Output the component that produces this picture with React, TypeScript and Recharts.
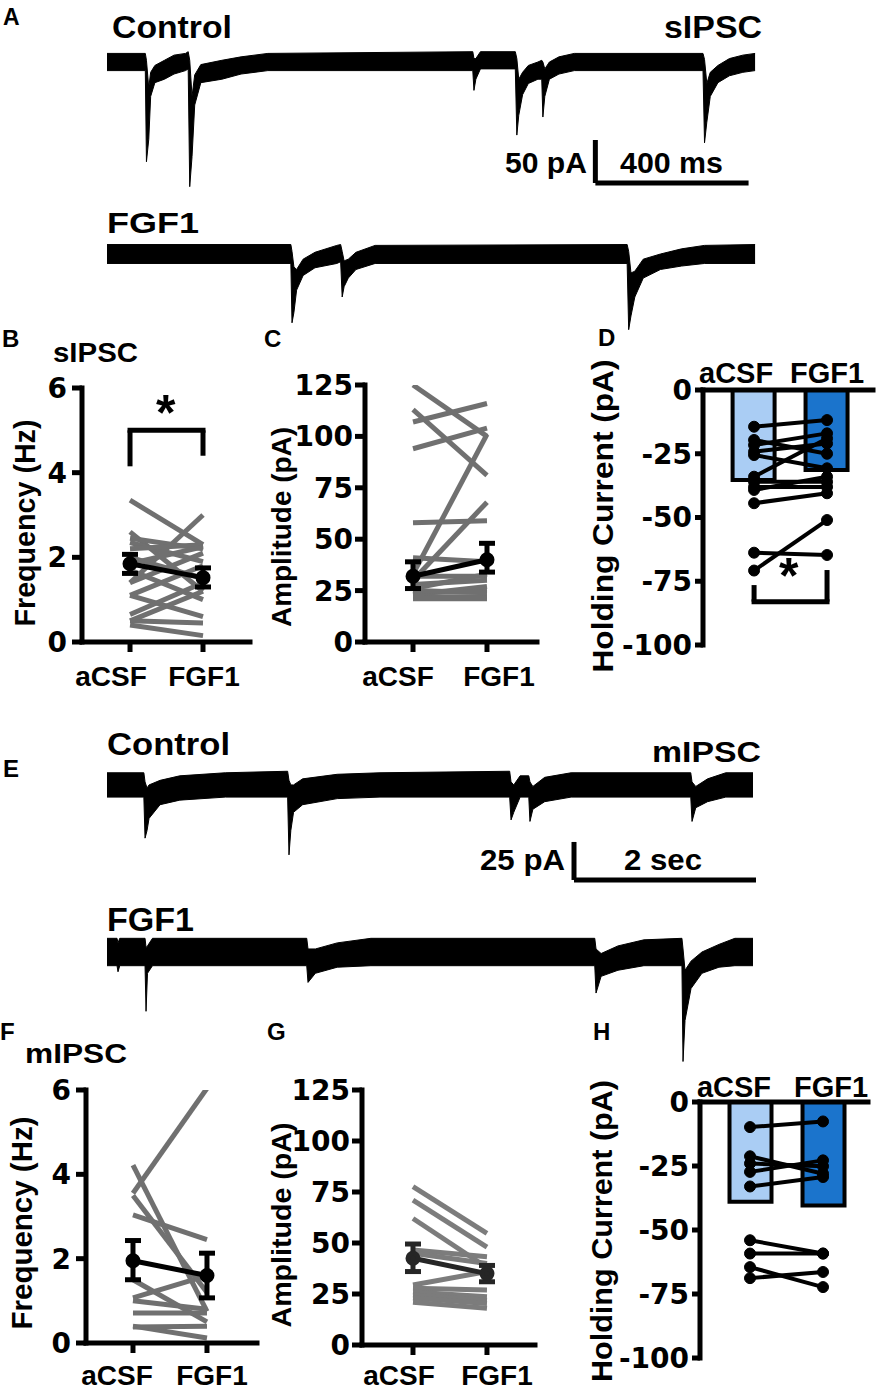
import React from "react";
import { ComposedChart, Line, Area, Bar, Cell, XAxis, YAxis, ReferenceLine, ErrorBar } from "recharts";

const SANS = '"Liberation Sans", Arial, Helvetica, sans-serif';
const NUMS = '"DejaVu Sans", sans-serif';

const groups = ["aCSF", "FGF1"];

// ---- traces (t in ms, band = noise envelope in pA) ----
// A, control sIPSC
const sCtrlT = [0, 100, 103, 109, 114, 125, 150, 175, 205, 212, 216, 222, 229, 245, 300, 350, 420, 955, 958, 963, 975, 1066, 1070, 1075, 1085, 1100, 1125, 1135, 1138, 1143, 1155, 1180, 1220, 1556, 1560, 1566, 1575, 1595, 1625, 1660, 1692];
const sCtrlHi = [10, 10, 2, -30, -12, -4, 2, 8, 10, 12, 2, -40, -15, -3, 2, 6, 10, 12, 4, 4, 12, 12, 4, -20, -12, -4, 0, 2, 0, -8, 0, 6, 10, 10, 3, -25, -12, -4, 4, 8, 10];
const sCtrlLo = [-10, -10, -116, -90, -40, -24, -20, -14, -10, -8, -145, -110, -50, -24, -20, -14, -10, -10, -33, -20, -8, -8, -85, -62, -38, -25, -20, -20, -64, -40, -20, -14, -10, -10, -94, -70, -40, -24, -16, -12, -10];
// A, FGF1 sIPSC
const sFgfT = [0, 480, 483, 488, 495, 512, 543, 600, 610, 614, 619, 630, 650, 700, 1358, 1362, 1368, 1378, 1400, 1445, 1500, 1560, 1692];
const sFgfHi = [11, 11, 3, -15, -18, -6, 2, 10, 11, 3, -8, -6, 2, 10, 11, 3, -22, -20, -6, 0, 6, 10, 11];
const sFgfLo = [-11, -11, -80, -68, -42, -25, -16, -11, -9, -50, -38, -28, -18, -11, -11, -88, -72, -50, -28, -18, -14, -11, -11];
// E, control mIPSC
const mCtrlT = [0, 405, 418, 440, 462, 583, 800, 1300, 1985, 2000, 2020, 2050, 2150, 2530, 3000, 4425, 4440, 4470, 4540, 4635, 4648, 4680, 4810, 5100, 6415, 6429, 6470, 6600, 6800, 7099];
const mCtrlHi = [8, 8, 2, -2, 0, 3, 6, 8, 9, 3, 0, 0, 4, 7, 8, 9, 2, 0, 6, 6, 2, -1, 5, 8, 8, 2, -1, 4, 8, 8];
const mCtrlLo = [-8, -8, -35, -30, -22, -13, -10, -8, -8, -46, -30, -18, -13, -9, -8, -8, -23, -18, -8, -8, -24, -16, -11, -8, -8, -24, -15, -11, -8, -8];
// E, FGF1 mIPSC
const mFgfT = [0, 110, 121, 140, 418, 429, 445, 500, 2195, 2209, 2290, 2530, 2900, 5360, 5374, 5430, 5615, 5900, 6318, 6330, 6352, 6418, 6538, 6725, 6900, 7099];
const mFgfHi = [9, 9, 6, 9, 9, 3, 4, 9, 9, 2, 2, 6, 9, 9, 2, -1, 4, 8, 9, 2, -12, -6, 0, 5, 9, 9];
const mFgfLo = [-9, -9, -13, -9, -9, -39, -14, -9, -9, -20, -14, -10, -9, -9, -27, -16, -12, -9, -9, -72, -45, -24, -14, -10, -9, -9];

// scale bars: [start t (ms), start current (pA), length ms, length pA]
const sScaleBar = [1275, -140.7, 400, 50];
const mScaleBar = [5132, -62.5, 2000, 25];

// ---- B: sIPSC frequency (Hz) ----
const sFreqACSF = [3.35, 2.6, 2.45, 2.35, 2.2, 2.0, 1.85, 1.7, 1.4, 1.4, 1.1, 1.1, 0.65, 0.5, 0.4, 0.5];
const sFreqFGF1 = [2.3, 1.2, 2.2, 1.9, 2.3, 1.5, 2.25, 1.0, 2.1, 3.0, 1.8, 0.6, 1.4, 0.45, 0.15, 1.2];
const sFreqMean = [1.85, 1.52];
const sFreqLow = [1.62, 1.3];
const sFreqHigh = [2.07, 1.75];

// ---- C: sIPSC amplitude (pA) ----
const sAmpACSF = [125, 113, 107, 94, 58, 41, 33, 30, 32, 28, 26, 24, 22, 23, 25, 21];
const sAmpFGF1 = [100, 81, 116, 104, 59, 39, 101, 68, 32, 30, 33, 25, 22, 27, 24, 21];
const sAmpMean = [32, 40];
const sAmpLow = [26, 34];
const sAmpHigh = [39, 48];

// ---- D: sIPSC holding current (pA) ----
const sHoldACSF = [-14.4, -19.6, -21.6, -24.2, -25.5, -34, -36, -38, -39.2, -44.4, -63.8, -70.8];
const sHoldFGF1 = [-11.8, -25, -17, -21, -30.7, -19, -36, -38, -34, -40.5, -64.7, -51];
const sHoldBars = [-35.3, -31.4];

// ---- F: mIPSC frequency (Hz) ----
const mFreqACSF = [4.22, 3.55, 3.5, 3.04, 1.5, 1.07, 1.0, 0.71, 0.4, 0.38];
const mFreqFGF1 = [0.75, 6.04, 1.2, 2.45, 0.5, 1.6, 0.8, 0.71, 0.12, 0.4];
const mFreqMean = [1.95, 1.6];
const mFreqLow = [1.5, 1.07];
const mFreqHigh = [2.43, 2.13];

// ---- G: mIPSC amplitude (pA) ----
const mAmpACSF = [77.6, 71, 62, 46.6, 45, 29.4, 27.8, 26, 24.5, 23, 21];
const mAmpFGF1 = [54.7, 48, 38, 43.3, 40, 36, 27, 23.7, 22, 20.4, 18];
const mAmpMean = [42.5, 35];
const mAmpLow = [36, 31];
const mAmpHigh = [49.5, 39];

// ---- H: mIPSC holding current (pA) ----
const mHoldACSF = [-9.8, -21.2, -24, -27.3, -33, -54, -59.2, -64.5, -68.8];
const mHoldFGF1 = [-7.6, -28, -25.1, -22.8, -29.3, -59.2, -59.2, -72.3, -66.4];
const mHoldBars = [-39, -40.4];

const barColors = ["#aacdf4", "#1b74cc"];

const AXIS = { stroke: "#000", strokeWidth: 5, strokeLinecap: "square" as const };
const TICK = { stroke: "#000", strokeWidth: 5 };

function traceRows(t: number[], hi: number[], lo: number[]) {
  return t.map((v, i) => ({ t: v, band: [lo[i], hi[i]] }));
}

function pairedRows(a: number[], b: number[], mean?: number[], lo?: number[], hi?: number[], bars?: number[]) {
  return [0, 1].map((g) => {
    const row: any = { x: g + 1 };
    a.forEach((_, i) => {
      row["s" + i] = g === 0 ? a[i] : b[i];
    });
    if (mean && lo && hi) {
      row.mean = mean[g];
      row.err = [mean[g] - lo[g], hi[g] - mean[g]];
    }
    if (bars) row.bar = bars[g];
    return row;
  });
}

type Box = { left: number; top: number; width: number; height: number };

function Trace({ box, rows, xDomain, yDomain, bar }: { box: Box; rows: any[]; xDomain: number[]; yDomain: number[]; bar?: number[] }) {
  return (
    <div style={{ position: "absolute", left: box.left, top: box.top }}>
      <ComposedChart width={box.width} height={box.height} data={rows} margin={{ top: 0, right: 0, bottom: 0, left: 0 }}>
        <XAxis type="number" dataKey="t" domain={xDomain} hide allowDataOverflow />
        <YAxis type="number" domain={yDomain} hide allowDataOverflow />
        <Area dataKey="band" type="linear" stroke="#000" strokeWidth={1} fill="#000" fillOpacity={1} dot={false} activeDot={false} isAnimationActive={false} />
        {bar && (
          <ReferenceLine segment={[{ x: bar[0], y: bar[1] + bar[3] }, { x: bar[0], y: bar[1] }]} stroke="#000" strokeWidth={5} />
        )}
        {bar && (
          <ReferenceLine segment={[{ x: bar[0], y: bar[1] }, { x: bar[0] + bar[2], y: bar[1] }]} stroke="#000" strokeWidth={5} />
        )}
      </ComposedChart>
    </div>
  );
}

function makeCatTick(dy: number, shifts: number[], size: number) {
  return (props: any) => {
    const { x, y, payload } = props;
    const i = Math.round(payload.value) - 1;
    if (i < 0 || i > 1) return <g />;
    return (
      <text x={x + shifts[i]} y={y + dy} textAnchor="middle" fontFamily={SANS} fontWeight={700} fontSize={size} fill="#000">
        {groups[i]}
      </text>
    );
  };
}

type PairedProps = {
  box: Box;
  plot: { left: number; top: number; right: number; bottom: number };
  xDomain: number[];
  yDomain: number[];
  yTicks: number[];
  rows: any[];
  n: number;
  color: string;
  catDy: number;
  catShift: number[];
  catSize?: number;
  topAxis?: boolean;
  dots?: boolean;
  hasMean?: boolean;
  meanColor?: string;
  bracket?: number[]; // [bottom/top y, left leg end, right leg end]
  yTickSize?: number;
  yTickMargin?: number;
};

function Paired(p: PairedProps) {
  const { box, plot } = p;
  const margin = {
    top: p.topAxis ? 0 : plot.top - box.top,
    right: box.left + box.width - plot.right,
    bottom: p.topAxis ? box.top + box.height - plot.bottom : 0,
    left: 0,
  };
  const xH = p.topAxis ? plot.top - box.top : box.top + box.height - plot.bottom;
  const ids = Array.from({ length: p.n }, (_, i) => "s" + i);
  return (
    <div style={{ position: "absolute", left: box.left, top: box.top }}>
      <ComposedChart width={box.width} height={box.height} data={p.rows} margin={margin}>
        <XAxis
          type="number"
          dataKey="x"
          domain={p.xDomain}
          ticks={[1, 2]}
          interval={0}
          allowDataOverflow
          orientation={p.topAxis ? "top" : "bottom"}
          height={xH}
          axisLine={AXIS}
          tickLine={p.topAxis ? false : TICK}
          tickSize={p.topAxis ? 0 : 10}
          tickMargin={0}
          tick={makeCatTick(p.catDy, p.catShift, p.catSize ?? 28)}
        />
        <YAxis
          type="number"
          domain={p.yDomain}
          ticks={p.yTicks}
          interval={0}
          allowDataOverflow
          width={plot.left - box.left}
          axisLine={AXIS}
          tickLine={TICK}
          tickSize={p.yTickSize ?? 10}
          tickMargin={p.yTickMargin ?? 4}
          tick={{ fontFamily: NUMS, fontWeight: 700, fontSize: 28, fill: "#000" }}
        />
        {p.topAxis && (
          <Bar dataKey="bar" barSize={42} stroke="#000" strokeWidth={4} isAnimationActive={false}>
            {barColors.map((c) => (
              <Cell key={c} fill={c} />
            ))}
          </Bar>
        )}
        {ids.map((k) => (
          <Line
            key={k}
            dataKey={k}
            type="linear"
            stroke={p.color}
            strokeWidth={p.dots ? 4 : 5}
            dot={p.dots ? { r: 5.5, fill: "#000", stroke: "#000", strokeWidth: 1 } : false}
            activeDot={false}
            isAnimationActive={false}
          />
        ))}
        {p.hasMean && (
          <Line dataKey="mean" type="linear" stroke={p.meanColor ?? "#000"} strokeWidth={5} dot={{ r: 5, fill: p.meanColor ?? "#000", stroke: p.meanColor ?? "#000" }} activeDot={false} isAnimationActive={false}>
            <ErrorBar dataKey="err" direction="y" width={8} stroke={p.meanColor ?? "#000"} strokeWidth={5} />
          </Line>
        )}
        {p.bracket && (
          <ReferenceLine segment={[{ x: 1, y: p.bracket[1] }, { x: 1, y: p.bracket[0] }]} stroke="#000" strokeWidth={5} />
        )}
        {p.bracket && (
          <ReferenceLine segment={[{ x: 1, y: p.bracket[0] }, { x: 2, y: p.bracket[0] }]} stroke="#000" strokeWidth={5} strokeLinecap="square" />
        )}
        {p.bracket && (
          <ReferenceLine segment={[{ x: 2, y: p.bracket[0] }, { x: 2, y: p.bracket[2] }]} stroke="#000" strokeWidth={5} />
        )}
      </ComposedChart>
    </div>
  );
}

type Lbl = { t: string; x: number; y: number; s: number; len?: number; rot?: boolean };

const labels: Lbl[] = [
  { t: "A", x: 3, y: 25, s: 23 },
  { t: "Control", x: 112, y: 38, s: 32, len: 120 },
  { t: "sIPSC", x: 664, y: 38, s: 32, len: 98 },
  { t: "50 pA", x: 505, y: 173, s: 29, len: 82 },
  { t: "400 ms", x: 620, y: 173, s: 29, len: 103 },
  { t: "FGF1", x: 107, y: 233, s: 30, len: 92 },
  { t: "B", x: 2, y: 347, s: 24 },
  { t: "sIPSC", x: 53, y: 362, s: 27, len: 85 },
  { t: "C", x: 264, y: 347, s: 24 },
  { t: "D", x: 598, y: 346, s: 24 },
  { t: "*", x: 156, y: 430, s: 50 },
  { t: "*", x: 779, y: 593, s: 50 },
  { t: "Frequency (Hz)", x: 35, y: 523, s: 29, len: 207, rot: true },
  { t: "Amplitude (pA)", x: 291, y: 527, s: 28, len: 200, rot: true },
  { t: "Holding Current (pA)", x: 613, y: 516, s: 29, len: 313, rot: true },
  { t: "E", x: 3, y: 777, s: 24 },
  { t: "Control", x: 107, y: 755, s: 32, len: 123 },
  { t: "mIPSC", x: 652, y: 762, s: 29, len: 109 },
  { t: "25 pA", x: 480, y: 870, s: 29, len: 85 },
  { t: "2 sec", x: 624, y: 870, s: 29, len: 78 },
  { t: "FGF1", x: 107, y: 931, s: 33, len: 87 },
  { t: "F", x: 0, y: 1040, s: 24 },
  { t: "G", x: 267, y: 1040, s: 24 },
  { t: "H", x: 593, y: 1040, s: 24 },
  { t: "mIPSC", x: 25, y: 1063, s: 27, len: 102 },
  { t: "Frequency (Hz)", x: 32, y: 1223, s: 29, len: 213, rot: true },
  { t: "Amplitude (pA)", x: 291, y: 1225, s: 28, len: 205, rot: true },
  { t: "Holding Current (pA)", x: 612, y: 1231, s: 29, len: 302, rot: true },
];

function Labels() {
  return (
    <svg width={881} height={1393} style={{ position: "absolute", left: 0, top: 0, pointerEvents: "none" }}>
      {labels.map((l, i) => {
        const common: any = { fontFamily: SANS, fontWeight: 700, fontSize: l.s, fill: "#000" };
        if (l.len) {
          common.textLength = l.len;
          common.lengthAdjust = "spacingAndGlyphs";
        }
        if (l.rot) {
          return (
            <text key={i} transform={`translate(${l.x},${l.y}) rotate(-90)`} textAnchor="middle" {...common}>
              {l.t}
            </text>
          );
        }
        return (
          <text key={i} x={l.x} y={l.y} {...common}>
            {l.t}
          </text>
        );
      })}
    </svg>
  );
}

export default function App() {
  return (
    <div style={{ position: "relative", width: 881, height: 1393, background: "#fff", overflow: "hidden" }}>
      <style>{"body{margin:0}"}</style>

      <Trace box={{ left: 107, top: 40, width: 650, height: 160 }} rows={traceRows(sCtrlT, sCtrlHi, sCtrlLo)} xDomain={[0, 1697]} yDomain={[-160.5, 25.6]} bar={sScaleBar} />
      <Trace box={{ left: 107, top: 200, width: 650, height: 140 }} rows={traceRows(sFgfT, sFgfHi, sFgfLo)} xDomain={[0, 1697]} yDomain={[-100, 62.8]} />

      <Paired
        box={{ left: 0, top: 370, width: 260, height: 330 }}
        plot={{ left: 82, top: 388, right: 250, bottom: 642 }}
        xDomain={[0.342, 2.644]}
        yDomain={[0, 6]}
        yTicks={[0, 2, 4, 6]}
        rows={pairedRows(sFreqACSF, sFreqFGF1, sFreqMean, sFreqLow, sFreqHigh)}
        n={sFreqACSF.length}
        color="#707070"
        catDy={34}
        catShift={[-19, 1]}
        hasMean
        bracket={[5, 4.15, 4.4]}
        yTickSize={10}
        yTickMargin={5}
      />
      <Paired
        box={{ left: 270, top: 370, width: 280, height: 330 }}
        plot={{ left: 365, top: 385, right: 537, bottom: 642 }}
        xDomain={[0.351, 2.676]}
        yDomain={[0, 125]}
        yTicks={[0, 25, 50, 75, 100, 125]}
        rows={pairedRows(sAmpACSF, sAmpFGF1, sAmpMean, sAmpLow, sAmpHigh)}
        n={sAmpACSF.length}
        color="#707070"
        catDy={34}
        catShift={[-15, 12]}
        hasMean
        yTickSize={10}
        yTickMargin={2}
      />
      <Paired
        box={{ left: 610, top: 340, width: 271, height: 330 }}
        plot={{ left: 703, top: 390, right: 873, bottom: 645 }}
        xDomain={[0.3, 2.63]}
        yDomain={[-100, 0]}
        yTicks={[-100, -75, -50, -25, 0]}
        rows={pairedRows(sHoldACSF, sHoldFGF1, undefined, undefined, undefined, sHoldBars)}
        n={sHoldACSF.length}
        color="#000"
        dots
        topAxis
        catDy={-7}
        catShift={[-18, 0]}
        catSize={29}
        bracket={[-83, -76.5, -70.6]}
        yTickSize={8}
        yTickMargin={3}
      />

      <Trace box={{ left: 107, top: 760, width: 650, height: 130 }} rows={traceRows(mCtrlT, mCtrlHi, mCtrlLo)} xDomain={[0, 7143]} yDomain={[-69.1, 16.4]} bar={mScaleBar} />
      <Trace box={{ left: 107, top: 900, width: 650, height: 170 }} rows={traceRows(mFgfT, mFgfHi, mFgfLo)} xDomain={[0, 7143]} yDomain={[-77.6, 34.2]} />

      <Paired
        box={{ left: 0, top: 1070, width: 270, height: 323 }}
        plot={{ left: 86, top: 1090, right: 257, bottom: 1343 }}
        xDomain={[0.365, 2.676]}
        yDomain={[0, 6]}
        yTicks={[0, 2, 4, 6]}
        rows={pairedRows(mFreqACSF, mFreqFGF1, mFreqMean, mFreqLow, mFreqHigh)}
        n={mFreqACSF.length}
        color="#707070"
        catDy={32}
        catShift={[-16, 5]}
        hasMean
        yTickSize={10}
        yTickMargin={5}
      />
      <Paired
        box={{ left: 270, top: 1070, width: 280, height: 323 }}
        plot={{ left: 362, top: 1090, right: 535, bottom: 1345 }}
        xDomain={[0.311, 2.649]}
        yDomain={[0, 125]}
        yTicks={[0, 25, 50, 75, 100, 125]}
        rows={pairedRows(mAmpACSF, mAmpFGF1, mAmpMean, mAmpLow, mAmpHigh)}
        n={mAmpACSF.length}
        color="#7c7c7c"
        catDy={30}
        catShift={[-14, 10]}
        hasMean
        meanColor="#262626"
        yTickSize={10}
        yTickMargin={2}
      />
      <Paired
        box={{ left: 610, top: 1050, width: 271, height: 330 }}
        plot={{ left: 700, top: 1102, right: 868, bottom: 1358 }}
        xDomain={[0.315, 2.616]}
        yDomain={[-100, 0]}
        yTicks={[-100, -75, -50, -25, 0]}
        rows={pairedRows(mHoldACSF, mHoldFGF1, undefined, undefined, undefined, mHoldBars)}
        n={mHoldACSF.length}
        color="#000"
        dots
        topAxis
        catDy={-5}
        catShift={[-16, 8]}
        catSize={29}
        yTickSize={8}
        yTickMargin={3}
      />

      <Labels />
    </div>
  );
}
